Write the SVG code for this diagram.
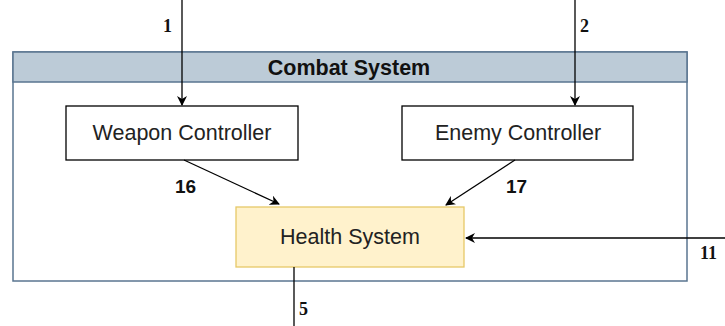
<svg xmlns="http://www.w3.org/2000/svg" width="725" height="326" viewBox="0 0 725 326">
<style>
.node{fill:#fff;stroke:#000;stroke-width:1.3}
.t{font-family:"Liberation Sans",Arial,sans-serif;font-size:21.5px;fill:#222;text-anchor:middle}
.e{stroke:#000;stroke-width:1.3;fill:none}
.ls{font-family:"Liberation Sans",Arial,sans-serif;font-size:19px;font-weight:bold;fill:#111}
.lr{font-family:"Liberation Serif","Times New Roman",serif;font-size:18px;font-weight:bold;fill:#111}
</style>
<defs>
<marker id="a" viewBox="0 0 10 10" refX="9" refY="5" markerWidth="10" markerHeight="10" markerUnits="userSpaceOnUse" orient="auto">
<path d="M0,0 L10,5 L0,10 L3,5 Z" fill="#000"/>
</marker>
</defs>
<g id="combat-system">
<rect x="13" y="52" width="674" height="229" fill="#fff" stroke="#5a7590" stroke-width="1.5"/>
<rect x="13" y="52" width="674" height="30" fill="#bccbd7" stroke="#5a7590" stroke-width="1.5"/>
<text x="349" y="75" class="t" style="font-weight:bold;fill:#111">Combat System</text>
</g>
<g id="weapon-controller">
<rect x="66" y="106" width="232" height="54" class="node"/>
<text x="182" y="140" class="t">Weapon Controller</text>
</g>
<g id="enemy-controller">
<rect x="402" y="106" width="231" height="54" class="node"/>
<text x="518" y="140" class="t">Enemy Controller</text>
</g>
<g id="health-system">
<rect x="236" y="207" width="228" height="60" fill="#fff2cc" stroke="#e6c868" stroke-width="1.3"/>
<text x="350" y="244" class="t">Health System</text>
</g>
<g id="connectors">
<line x1="182" y1="0" x2="182" y2="105" class="e" marker-end="url(#a)"/>
<text x="163" y="32" class="lr">1</text>
<line x1="575" y1="0" x2="575" y2="105" class="e" marker-end="url(#a)"/>
<text x="580" y="32" class="lr">2</text>
<line x1="184" y1="160" x2="279" y2="204" class="e" marker-end="url(#a)"/>
<text x="175" y="193" class="ls">16</text>
<line x1="515" y1="160" x2="446" y2="205" class="e" marker-end="url(#a)"/>
<text x="506" y="193" class="ls">17</text>
<line x1="725" y1="238" x2="466" y2="238" class="e" marker-end="url(#a)"/>
<text x="700" y="259" class="lr">11</text>
<line x1="294" y1="267" x2="294" y2="326" class="e"/>
<text x="299" y="315" class="lr">5</text>
</g>
</svg>
